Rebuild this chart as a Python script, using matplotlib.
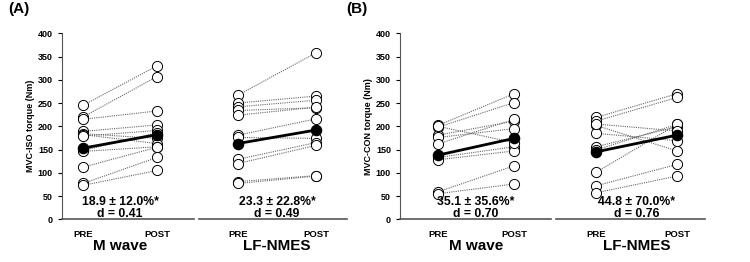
import numpy as np
import matplotlib
matplotlib.use("Agg")
import matplotlib.pyplot as plt

plt.rcParams['font.family'] = ['Liberation Sans', 'DejaVu Sans']
plt.rcParams['font.weight'] = 'bold'

# individual subjects, PRE and POST (Nm)
iso_mwave_pre = [245, 220, 215, 189, 184, 182, 179, 148, 146, 112, 77, 73]
iso_mwave_post = [330, 307, 233, 203, 174, 163, 191, 186, 156, 155, 133, 105]
iso_lf_pre = [267, 250, 242, 234, 224, 181, 176, 129, 120, 81, 77]
iso_lf_post = [358, 265, 256, 240, 241, 216, 174, 165, 159, 94, 93]
con_mwave_pre = [202, 198, 181, 176, 162, 133, 128, 200, 59, 55]
con_mwave_post = [270, 251, 211, 195, 215, 156, 147, 165, 115, 76]
con_lf_pre = [219, 211, 202, 185, 156, 149, 101, 72, 57, 205]
con_lf_post = [270, 262, 147, 169, 199, 204, 204, 118, 93, 190]

# group means
iso_mwave_mean = [153, 182]
iso_lf_mean = [163, 192]
con_mwave_mean = [138, 174]
con_lf_mean = [145, 181]

stats = [("18.9 \u00b1 12.0%*", "d = 0.41"), ("23.3 \u00b1 22.8%*", "d = 0.49"),
         ("35.1 \u00b1 35.6%*", "d = 0.70"), ("44.8 \u00b1 70.0%*", "d = 0.76")]
groups = ["M wave", "LF-NMES", "M wave", "LF-NMES"]
ylabels = ["MVC-ISO torque (Nm)", "MVC-CON torque (Nm)"]

W, H = 750, 262
fig = plt.figure(figsize=(7.5, 2.62), dpi=100)

# (axis left px, axis right px, PRE px, POST px)
boxes = [(62, 194, 83, 157), (199, 347, 238, 316),
         (400, 551, 438, 514), (556, 705, 596, 677)]
pre_list = [iso_mwave_pre, iso_lf_pre, con_mwave_pre, con_lf_pre]
post_list = [iso_mwave_post, iso_lf_post, con_mwave_post, con_lf_post]
means = [iso_mwave_mean, iso_lf_mean, con_mwave_mean, con_lf_mean]

y0, y1 = 219.3, 33.3
for i, (l, r, xp, xq) in enumerate(boxes):
    ax = fig.add_axes([l / W, (H - y0) / H, (r - l) / W, (y0 - y1) / H])
    unit = xq - xp
    ax.set_xlim((l - xp) / unit, (r - xp) / unit)
    ax.set_ylim(0, 400)
    for a, b in zip(pre_list[i], post_list[i]):
        ax.plot([0, 1], [a, b], ls=(0, (1, 1)), color="#666666", lw=0.8, zorder=2)
        ax.plot([0, 1], [a, b], ls="none", marker="o", ms=7.3, mfc="white",
                mec="black", mew=0.7, zorder=3, clip_on=False)
    ax.plot([0, 1], means[i], color="black", lw=2, marker="o", ms=7.3,
            mfc="black", mec="black", zorder=4)
    for s in ["top", "right"]:
        ax.spines[s].set_visible(False)
    ax.spines["bottom"].set_color("#555555")
    ax.spines["bottom"].set_linewidth(1.2)
    ax.set_xticks([0, 1])
    ax.set_xticklabels(["PRE", "POST"], fontsize=6.8, fontweight="bold")
    ax.tick_params(axis="x", length=0, pad=8)
    if i % 2 == 0:
        ax.set_yticks(range(0, 401, 50))
        ax.tick_params(axis="y", labelsize=6.5, length=3, width=0.8)
        for t in ax.get_yticklabels():
            t.set_fontweight("bold")
        ax.spines["left"].set_color("#555555")
        ax.set_ylabel(ylabels[i // 2], fontsize=6.5, fontweight="bold", labelpad=2)
        fig.text((l - 54) / W, (H - 9) / H, "(A)" if i == 0 else "(B)",
                 fontsize=11, fontweight="bold", va="center", ha="left")
    else:
        ax.spines["left"].set_visible(False)
        ax.set_yticks([])
    ax.text(0.5, 38, stats[i][0], ha="center", va="center", fontsize=8.8, fontweight="bold")
    ax.text(0.5, 12, stats[i][1], ha="center", va="center", fontsize=8.8, fontweight="bold")
    fig.text((xp + xq) / 2 / W, (H - 246) / H, groups[i], ha="center", va="center",
             fontsize=11, fontweight="bold")

fig.savefig("out.png", dpi=100)
